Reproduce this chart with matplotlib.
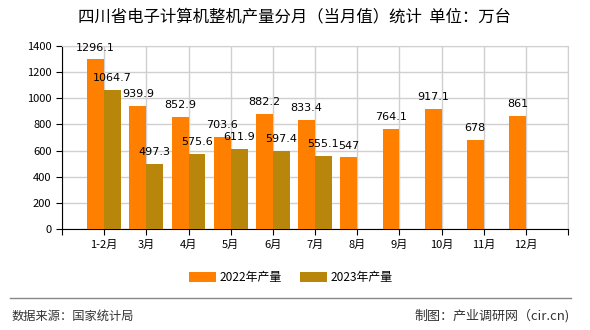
import numpy as np
import matplotlib
matplotlib.use('Agg')
import matplotlib.pyplot as plt
from matplotlib.lines import Line2D

plt.rcParams['font.family'] = ['Noto Sans CJK SC', 'DejaVu Sans']

months = ['1-2月', '3月', '4月', '5月', '6月', '7月', '8月', '9月', '10月', '11月', '12月']
prod_2022 = [1296.1, 939.9, 852.9, 703.6, 882.2, 833.4, 547, 764.1, 917.1, 678, 861]
prod_2023 = [1064.7, 497.3, 575.6, 611.9, 597.4, 555.1]
label_2022 = ['1296.1', '939.9', '852.9', '703.6', '882.2', '833.4', '547', '764.1', '917.1', '678', '861']
label_2023 = ['1064.7', '497.3', '575.6', '611.9', '597.4', '555.1']

c22 = '#FF8000'
c23 = '#B8860B'
w = 0.4

fig = plt.figure(figsize=(5.9, 3.3), dpi=100)
ax = fig.add_axes([0.105, 0.306, 0.858, 0.555])

x = np.arange(1, len(months) + 1)
x23 = x[:len(prod_2023)]
b1 = ax.bar(x - w / 2, prod_2022, w, color=c22, zorder=3, label='2022年产量')
b2 = ax.bar(x23 + w / 2, prod_2023, w, color=c23, zorder=3, label='2023年产量')

# 数值标签
for xi, v, t in zip(x, prod_2022, label_2022):
    ax.annotate(t, (xi - w / 2, v), xytext=(0, 5), textcoords='offset points',
                ha='center', va='bottom', fontsize=8, family='DejaVu Sans', zorder=4)
for xi, v, t in zip(x23, prod_2023, label_2023):
    ax.annotate(t, (xi + w / 2, v), xytext=(0, 5), textcoords='offset points',
                ha='center', va='bottom', fontsize=8, family='DejaVu Sans', zorder=4)

ax.set_xlim(0, 12)
ax.set_ylim(0, 1400)
ax.set_yticks(range(0, 1401, 200))
ax.set_xticks(list(x) + [0, 12])
ax.set_xticklabels(months + ['', ''], fontsize=8)
ax.tick_params(axis='y', labelsize=8, length=4, direction='out')
ax.tick_params(axis='x', length=4, direction='out')
ax.grid(True, color='#d0d0d0', linewidth=1, zorder=0)
for s in ['top', 'right']:
    ax.spines[s].set_color('#d0d0d0')
ax.spines['left'].set_color('black')
ax.spines['bottom'].set_color('black')

fig.text(0.5, 0.945, '四川省电子计算机整机产量分月（当月值）统计  单位：万台',
         ha='center', va='center', fontsize=11.8)

fig.legend(handles=[b1, b2], loc='center', bbox_to_anchor=(0.493, 0.159), ncol=2,
           frameon=False, fontsize=8.6, handlelength=2.2, handleheight=0.9,
           columnspacing=1.6, handletextpad=0.3)

fig.add_artist(Line2D([0.017, 0.968], [0.097, 0.097], color='#888888', linewidth=1))
fig.text(0.02, 0.042, '数据来源：国家统计局', ha='left', va='center', fontsize=8.8, color='#333333')
fig.text(0.966, 0.042, '制图：产业调研网（cir.cn)', ha='right', va='center', fontsize=9.4, color='#333333')

fig.savefig('out.png', dpi=100)
